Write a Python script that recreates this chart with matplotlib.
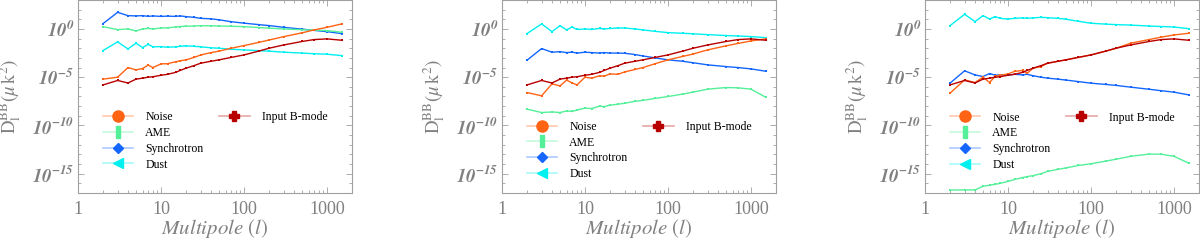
import numpy as np
import matplotlib.pyplot as plt
from matplotlib.lines import Line2D
from matplotlib.ticker import LogLocator, NullFormatter, FixedLocator

plt.rcParams['font.family'] = 'serif'
plt.rcParams['font.serif'] = ['Liberation Serif', 'DejaVu Serif']
plt.rcParams['mathtext.fontset'] = 'stix'

ell = [2, 3, 4, 5, 6, 7, 8, 10, 12, 15, 17, 20, 25, 30, 40, 50, 70, 100, 150, 200, 300, 500, 700, 1000, 1500]

# log10 of D_l^BB, one list per component and panel
bmode = [-5.8, -5.34, -5.6, -5.2, -5.1, -5.0, -4.95, -4.8, -4.7, -4.5, -4.3, -4.07, -3.8, -3.55, -3.35, -3.2,
         -2.95, -2.69, -2.3, -2.0, -1.66, -1.3, -1.1, -1.03, -1.17]

synch1 = [0.55, 1.72, 1.38, 1.35, 1.38, 1.3, 1.35, 1.3, 1.33, 1.3, 1.35, 1.28, 1.2, 1.1, 1.05, 0.95,
          0.75, 0.6, 0.45, 0.35, 0.17, -0.02, -0.15, -0.28, -0.48]
ame1 = [0.24, -0.07, 0.0, -0.2, 0.0, 0.05, 0.0, 0.1, 0.12, 0.2, 0.25, 0.28, 0.3, 0.34, 0.33, 0.3,
        0.28, 0.24, 0.15, 0.08, 0.0, -0.08, -0.12, -0.17, -0.34]
dust1 = [-2.24, -1.34, -2.07, -1.48, -1.93, -1.6, -1.85, -1.83, -1.9, -1.85, -1.8, -1.75, -1.8, -1.85, -1.95, -2.0,
         -2.1, -2.17, -2.25, -2.3, -2.41, -2.5, -2.57, -2.62, -2.76]
noise1 = [-5.2, -5.0, -4.0, -4.24, -4.1, -3.75, -4.0, -3.62, -3.6, -3.4, -3.3, -3.2, -2.95, -2.7, -2.45, -2.3,
          -2.0, -1.72, -1.4, -1.15, -0.8, -0.4, -0.1, 0.17, 0.52]

dust2 = [-0.48, 0.52, -0.28, 0.34, -0.1, 0.2, -0.05, 0.0, -0.05, 0.05, 0.0, 0.05, 0.1, 0.1, 0.0, -0.1,
         -0.25, -0.38, -0.45, -0.5, -0.59, -0.68, -0.73, -0.79, -0.9]
synch2 = [-3.24, -2.03, -2.41, -2.35, -2.45, -2.4, -2.5, -2.41, -2.45, -2.5, -2.45, -2.5, -2.5, -2.52, -2.65, -2.8,
          -3.0, -3.2, -3.35, -3.5, -3.72, -3.9, -4.0, -4.14, -4.38]
ame2 = [-8.31, -8.66, -8.6, -8.66, -8.5, -8.55, -8.4, -8.2, -8.25, -8.0, -8.05, -7.9, -7.8, -7.7, -7.5, -7.4,
        -7.2, -7.0, -6.75, -6.55, -6.24, -6.07, -6.1, -6.24, -7.07]
noise2 = [-6.59, -6.93, -5.69, -5.9, -5.3, -5.6, -5.8, -5.0, -5.1, -4.85, -4.9, -4.66, -4.7, -4.45, -4.2, -4.0,
          -3.6, -3.2, -2.85, -2.6, -2.17, -1.75, -1.5, -1.24, -1.03]

dust3 = [0.34, 1.52, 0.76, 1.38, 1.03, 1.28, 1.1, 1.03, 1.1, 1.15, 1.1, 1.15, 1.2, 1.17, 1.1, 1.0,
         0.8, 0.59, 0.5, 0.45, 0.4, 0.3, 0.25, 0.2, 0.03]
noise3 = [-6.66, -5.28, -5.55, -5.0, -5.55, -4.9, -4.8, -4.66, -4.4, -4.3, -4.6, -4.07, -3.9, -3.55, -3.35, -3.2,
          -2.95, -2.69, -2.3, -2.0, -1.48, -1.1, -0.85, -0.62, -0.45]
synch3 = [-5.62, -4.34, -4.76, -4.93, -4.62, -4.8, -4.75, -4.76, -4.7, -4.76, -4.7, -4.85, -5.0, -5.1, -5.2, -5.3,
          -5.45, -5.62, -5.75, -5.85, -6.03, -6.25, -6.4, -6.55, -6.83]
ame3 = [-16.7, -16.68, -16.68, -16.3, -16.2, -16.1, -16.0, -15.8, -15.6, -15.4, -15.3, -15.2, -15.0, -14.76, -14.55, -14.4,
        -14.15, -13.97, -13.7, -13.5, -13.2, -12.97, -12.98, -13.2, -13.9]

panels = [
    dict(noise=noise1, ame=ame1, synch=synch1, dust=dust1, leg_y=0.394),
    dict(noise=noise2, ame=ame2, synch=synch2, dust=dust2, leg_y=0.344),
    dict(noise=noise3, ame=ame3, synch=synch3, dust=dust3, leg_y=0.392),
]

names = ['Noise', 'AME', 'Synchrotron', 'Dust', 'Input B-mode']
keys = ['noise', 'ame', 'synch', 'dust', 'bmode']
colors = {'noise': (1.0, 0.39, 0.08), 'ame': (0.33, 0.94, 0.6), 'synch': (0.08, 0.4, 1.0),
          'dust': (0.0, 0.94, 0.94), 'bmode': (0.72, 0.0, 0.0)}
tall_rect = [(-0.35, -1), (0.35, -1), (0.35, 1), (-0.35, 1), (-0.35, -1)]
leg_markers = {'noise': 'o', 'ame': tall_rect, 'synch': 'D', 'dust': '<', 'bmode': 'P'}
leg_ms = {'noise': 8, 'ame': 8, 'synch': 5.5, 'dust': 7, 'bmode': 6.5}
grey = '#808080'

fig = plt.figure(figsize=(12, 2.42), dpi=100)
lefts = [78, 502, 925]

for p, left in zip(panels, lefts):
    ax = fig.add_axes([left / 1200, 49 / 242, 274 / 1200, 193 / 242])
    for k in ['synch', 'ame', 'dust', 'noise', 'bmode']:
        vals = bmode if k == 'bmode' else p[k]
        ax.plot(ell, 10.0 ** np.array(vals), color=colors[k], lw=1.0, marker='s', ms=2, mew=0)
    ax.set_xscale('log')
    ax.set_yscale('log')
    ax.set_xlim(1, 2000)
    ax.set_ylim(1e-17, 1e3)

    ax.yaxis.set_major_locator(FixedLocator([1e-15, 1e-10, 1e-5, 1e0]))
    ax.yaxis.set_minor_locator(LogLocator(base=10, numticks=30))
    ax.yaxis.set_minor_formatter(NullFormatter())
    ax.set_yticklabels([r'$\mathbfit{10^{-15}}$', r'$\mathbfit{10^{-10}}$', r'$\mathbfit{10^{-5}}$',
                        r'$\mathbfit{10^{0}}$'])
    ax.xaxis.set_major_locator(FixedLocator([1, 10, 100, 1000]))
    ax.xaxis.set_minor_locator(LogLocator(base=10, subs=np.arange(2, 10), numticks=10))
    ax.xaxis.set_minor_formatter(NullFormatter())
    ax.set_xticklabels(['1', '10', '100', '1000'])

    for s in ax.spines.values():
        s.set_color('#a0a0a0')
        s.set_linewidth(0.8)
    ax.tick_params(which='both', direction='in', top=True, right=True, colors='#a0a0a0',
                   labelcolor=grey, width=0.6)
    ax.tick_params(which='major', length=4)
    ax.tick_params(which='minor', length=2.5)
    ax.tick_params(axis='y', labelsize=13.5, pad=3)
    ax.tick_params(axis='x', labelsize=13, pad=6)

    ax.set_xlabel(r'$Multipole\ (l)$', fontsize=15, color=grey, labelpad=-1)
    ax.set_ylabel(r'$\mathrm{D_l^{BB}}(\mu\,\mathrm{k}^2)$', fontsize=13.5, color=grey)
    ax.yaxis.set_label_coords(-0.2, 0.5)

    handles = []
    for k in keys:
        r, g, b = colors[k]
        handles.append(Line2D([], [], color=(r, g, b, 0.35), lw=1.2, marker=leg_markers[k],
                              markerfacecolor=colors[k], markeredgecolor=colors[k], ms=leg_ms[k]))
    y0 = p['leg_y'] + 0.03
    leg1 = ax.legend(handles[:4], names[:4], loc='upper left', bbox_to_anchor=(0.09, y0),
                     frameon=False, fontsize=8.5, handlelength=2.6, handletextpad=1.0,
                     labelspacing=0.32, borderpad=0, borderaxespad=0)
    ax.add_artist(leg1)
    ax.legend(handles[4:], names[4:], loc='upper left', bbox_to_anchor=(0.515, y0),
              frameon=False, fontsize=8.5, handlelength=2.6, handletextpad=1.0,
              borderpad=0, borderaxespad=0)

fig.savefig('out.png', dpi=100)
